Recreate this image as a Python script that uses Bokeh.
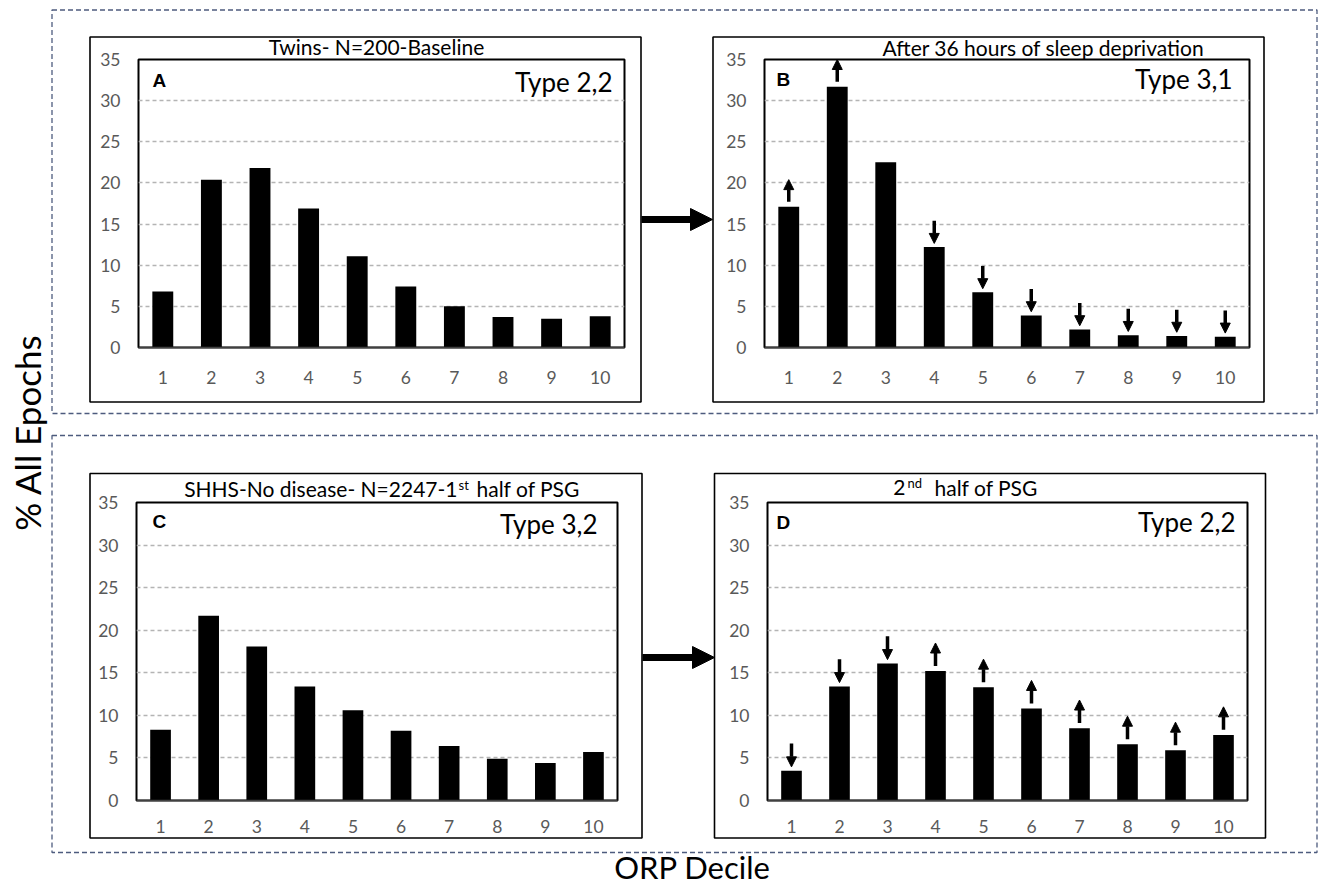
import math
from bokeh.plotting import figure
from bokeh.models import (Range1d, FixedTicker, Arrow, NormalHead, ColumnDataSource)
from bokeh.core.properties import value
from bokeh.layouts import row, column
from bokeh.embed import file_html
from bokeh.resources import INLINE

# ---------------- data ----------------
deciles = [1, 2, 3, 4, 5, 6, 7, 8, 9, 10]
y_ticks = [0, 5, 10, 15, 20, 25, 30, 35]

twins_baseline = [6.8, 20.4, 21.8, 16.9, 11.1, 7.4, 5.0, 3.7, 3.5, 3.8]
twins_sleep_dep = [17.1, 31.7, 22.5, 12.2, 6.7, 3.9, 2.2, 1.5, 1.4, 1.3]
shhs_first_half = [8.3, 21.7, 18.1, 13.4, 10.6, 8.2, 6.4, 4.9, 4.4, 5.7]
shhs_second_half = [3.5, 13.4, 16.1, 15.2, 13.3, 10.8, 8.5, 6.6, 5.9, 7.7]

sleep_dep_change = ["up", "up", "none", "down", "down", "down", "down", "down", "down", "down"]
second_half_change = ["down", "down", "down", "up", "up", "up", "up", "up", "up", "up"]

title_a = "Twins- N=200-Baseline"
title_b = "After 36 hours of sleep deprivation"
title_c = ["SHHS-No disease- N=2247-1", "st", "half of PSG"]
title_d = ["2", "nd", "half of PSG"]
types = ["Type 2,2", "Type 3,1", "Type 3,2", "Type 2,2"]
letters = ["A", "B", "C", "D"]
y_label = "% All Epochs"
x_label = "ORP Decile"

FONT = "Lato"
FRAME_COLOR = "#4d5b7e"
W, H = 1320, 890

# ---------------- background sheet (frames, boxes, texts) ----------------
bg = figure(width=W, height=H, x_range=Range1d(0, W), y_range=Range1d(H, 0),
            min_border=0, toolbar_location=None, output_backend="svg",
            x_axis_location=None, y_axis_location=None)
bg.grid.visible = False
bg.outline_line_color = None
bg.background_fill_color = "white"
bg.border_fill_color = "white"

# dashed group frames
bg.quad(left=[51.5, 51.5], right=[1316.5, 1316.5], top=[9.5, 435], bottom=[413, 852],
        fill_color=None, line_color=FRAME_COLOR, line_width=1.3, line_dash="5 3")
# panel boxes
bg.quad(left=[89.5, 712.5, 89.5, 714], right=[640.5, 1263.5, 641.5, 1265],
        top=[36.5, 36.5, 473, 473], bottom=[401.5, 401.5, 837.5, 837.5],
        fill_color=None, line_color="black", line_width=1.6)
# arrows between panels
for (x0, x1, y) in [(641, 712, 219), (642, 714, 657)]:
    bg.add_layout(Arrow(x_start=x0, y_start=y, x_end=x1, y_end=y, line_color="black",
                        line_width=7,
                        end=NormalHead(size=22, fill_color="black", line_color="black")))


def txt(x, y, t, size, align="left", font=FONT, style="normal", angle=0.0,
        baseline="middle"):
    bg.text(x=[x], y=[y], text=[t], text_font=value(font), text_font_size=f"{size}px",
            text_font_style=style, text_align=align, text_baseline=baseline,
            text_color="black", angle=angle)


# titles (y = vertical centre of the text line)
txt(376, 46.4, title_a, 21, align="center")
txt(1043, 46.9, title_b, 21, align="center")
txt(457, 487.6, title_c[0], 21, align="right")
txt(458, 484, title_c[1], 13)
txt(476, 487.6, title_c[2], 21)
txt(905, 486.9, title_d[0], 21, align="right")
txt(907, 482, title_d[1], 13)
txt(934, 486.9, title_d[2], 21)
# type labels
txt(612, 81, types[0], 26, align="right")
txt(1232, 78, types[1], 26, align="right")
txt(597, 523, types[2], 26, align="right")
txt(1235, 521, types[3], 26, align="right")
# panel letters
txt(152, 79.5, letters[0], 19, font="Liberation Sans", style="bold")
txt(776, 78.5, letters[1], 19, font="Liberation Sans", style="bold")
txt(152, 520.5, letters[2], 19, font="Liberation Sans", style="bold")
txt(776, 521.5, letters[3], 19, font="Liberation Sans", style="bold")
# axis titles
txt(26, 432, y_label, 35, align="center", angle=math.pi / 2)
txt(692, 866, x_label, 31, align="center")


# ---------------- bar panels ----------------
def make_panel(values, w, h, bl, br, bt, bb, xstand):
    p = figure(width=w, height=h, x_range=Range1d(0.5, 10.5), y_range=Range1d(0, 35),
               output_backend="svg", toolbar_location=None,
               min_border_left=bl, min_border_right=br, min_border_top=bt,
               min_border_bottom=bb)
    p.vbar(x=deciles, top=values, width=0.43, fill_color="black", line_color=None)
    p.xaxis.ticker = FixedTicker(ticks=deciles)
    p.yaxis.ticker = FixedTicker(ticks=y_ticks)
    for ax in (p.xaxis, p.yaxis):
        ax.major_tick_line_color = None
        ax.minor_tick_line_color = None
        ax.major_tick_out = 0
        ax.major_tick_in = 0
        ax.minor_tick_out = 0
        ax.minor_tick_in = 0
        ax.major_label_text_color = "#595959"
        ax.major_label_text_font = FONT
        ax.major_label_text_font_size = "17.5px"
    p.xaxis.axis_line_color = "#404040"
    p.xaxis.axis_line_width = 1.5
    p.xaxis.major_label_standoff = xstand
    p.yaxis.axis_line_color = None
    p.yaxis.major_label_standoff = 18
    p.xgrid.visible = False
    p.ygrid.grid_line_color = "#b4b4b4"
    p.ygrid.grid_line_dash = "4 3"
    p.ygrid.grid_line_width = 1.5
    p.outline_line_color = "black"
    p.outline_line_width = 2
    p.background_fill_color = None
    p.border_fill_color = None
    return p


def add_change_arrows(p, values, changes):
    xs, y0, y1 = [], [], []
    for d, v, c in zip(deciles, values, changes):
        if c == "up":
            xs.append(d); y0.append(v + 0.6); y1.append(v + 3.3)
        elif c == "down":
            xs.append(d); y0.append(v + 3.2); y1.append(v + 0.45)
    src = ColumnDataSource(dict(x=xs, y0=y0, y1=y1))
    p.add_layout(Arrow(x_start="x", y_start="y0", x_end="x", y_end="y1", source=src,
                       line_color="black", line_width=3.5,
                       end=NormalHead(size=10, fill_color="black", line_color="black")))


pA = make_panel(twins_baseline, 550, 364, 48, 16, 22, 54, 23)
pB = make_panel(twins_sleep_dep, 550, 364, 51, 14, 22, 54, 23)
add_change_arrows(pB, twins_sleep_dep, sleep_dep_change)
pC = make_panel(shhs_first_half, 551, 363, 46, 24, 28, 37, 19)
pD = make_panel(shhs_second_half, 549, 363, 52, 17, 28, 37, 19)
add_change_arrows(pD, shhs_second_half, second_half_change)

pA.margin = (37, 0, 0, 90)
pB.margin = (37, 0, 0, 73)
pC.margin = (73, 0, 0, 90)
pD.margin = (73, 0, 0, 74)

panels = column(row(pA, pB), row(pC, pD))
panels.margin = (-H, 0, 0, 0)
layout = column(bg, panels)

open("out.html", "w").write(file_html(layout, INLINE))
